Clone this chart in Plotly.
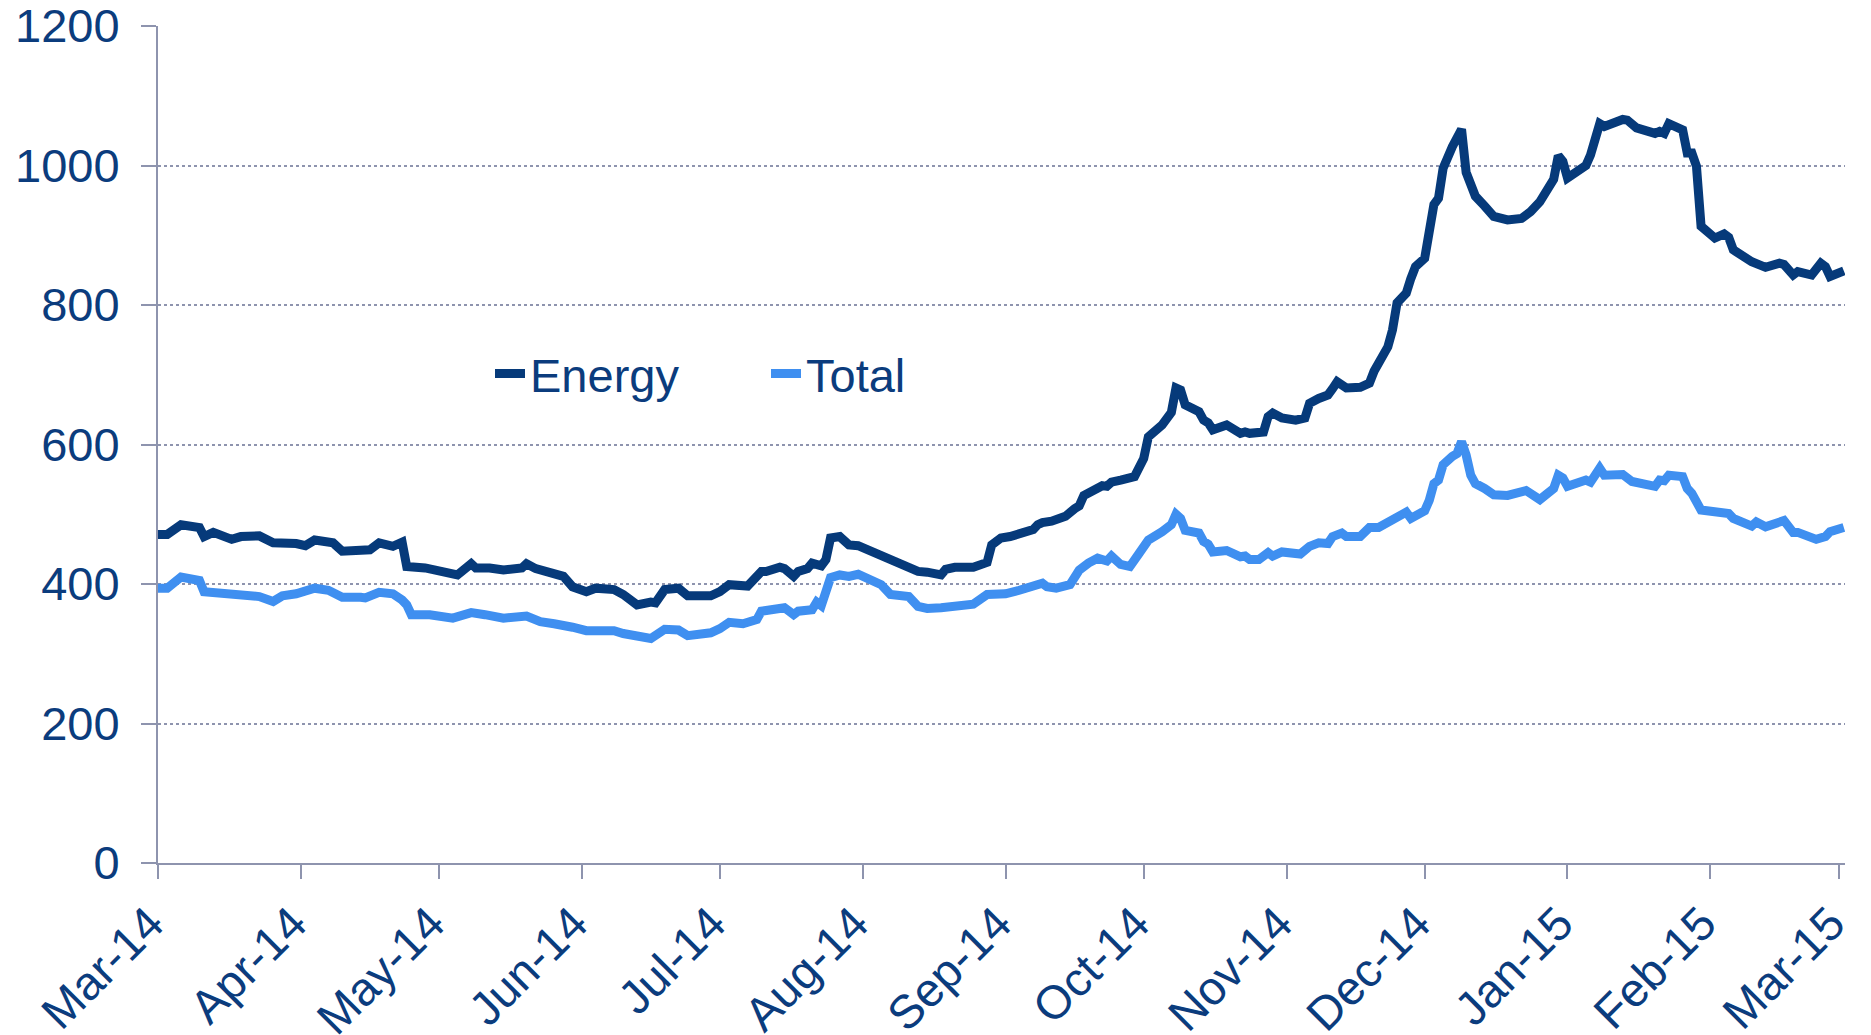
import pandas as pd
import plotly.graph_objects as go

# ---- data ----
start_date = "2014-03-01"

energy_days = [0, 2, 5, 9, 10, 12, 16, 18, 22, 25, 30, 32, 34, 38, 40, 44, 46, 48, 51, 53, 54,
               58, 60, 65, 68, 69, 72, 75, 79, 80, 82, 86, 88, 90, 93, 95, 99, 101, 104, 107, 108,
               110, 113, 115, 120, 122, 124, 128, 129, 131, 132, 135, 136, 138, 139, 141, 142, 144,
               145, 146, 148, 150, 152, 155, 158, 159, 163, 165, 167, 170, 171, 173, 177, 180, 181,
               183, 185, 187, 190, 191, 192, 194, 197, 199, 200, 201, 203, 205, 206, 207, 209, 212,
               214, 215, 218, 220, 221, 222, 223, 226, 227, 228, 229, 232, 235, 236, 237, 240, 241,
               242, 244, 247, 249, 250, 252, 254, 255, 256, 258, 261, 263, 264, 267, 268, 269, 271,
               272, 273, 275, 276, 277, 278, 279, 281, 283, 284, 286, 288, 290, 293, 296, 298, 300,
               303, 304, 305, 306, 310, 311, 313, 314, 318, 319, 321, 325, 326, 327, 328, 331, 332,
               333, 334, 335, 338, 340, 341, 342, 346, 347, 349, 352, 353, 355, 356, 359, 361, 362,
               363, 366]
energy_values = [471, 471, 485, 481, 468, 474, 464, 468, 469, 459, 458, 455, 463, 459, 447, 447, 449,
                 459, 454, 460, 425, 423, 421, 413, 429, 423, 423, 420, 423, 429, 422, 413, 411, 396,
                 389, 394, 392, 385, 370, 374, 373, 392, 394, 383, 383, 389, 399, 397, 404, 418, 418,
                 424, 422, 411, 418, 422, 430, 426, 435, 466, 468, 456, 455, 447, 437, 435, 423, 418,
                 417, 413, 421, 424, 424, 431, 456, 466, 468, 473, 478, 485, 488, 490, 497, 508, 512,
                 527, 534, 541, 540, 546, 549, 554, 580, 611, 628, 646, 681, 678, 657, 647, 635, 631,
                 621, 628, 616, 618, 616, 618, 640, 645, 638, 635, 638, 659, 666, 671, 680, 690, 681,
                 682, 688, 705, 740, 764, 803, 817, 838, 855, 867, 903, 944, 953, 996, 1027, 1052, 990,
                 956, 942, 927, 922, 924, 934, 948, 980, 1014, 1006, 982, 1000, 1015, 1060, 1056, 1066,
                 1065, 1054, 1046, 1049, 1046, 1060, 1051, 1018, 1018, 999, 913, 896, 902, 897, 879,
                 862, 860, 854, 860, 858, 843, 848, 843, 860, 855, 841, 849]

total_days = [0, 2, 5, 9, 10, 12, 16, 18, 20, 22, 25, 27, 30, 34, 37, 40, 44, 45, 48, 51, 53, 54,
              55, 59, 64, 68, 71, 75, 80, 83, 86, 88, 90, 93, 99, 101, 104, 107, 110, 113, 115, 118,
              120, 122, 124, 127, 130, 131, 135, 136, 138, 139, 142, 143, 144, 146, 148, 150, 152,
              155, 157, 159, 163, 165, 167, 170, 172, 177, 180, 184, 187, 189, 192, 193, 195, 198,
              199, 200, 202, 204, 206, 207, 209, 211, 213, 215, 218, 220, 221, 222, 223, 226, 227,
              228, 229, 232, 235, 236, 237, 239, 241, 242, 244, 248, 250, 252, 254, 255, 257, 258,
              261, 262, 263, 265, 267, 269, 271, 272, 275, 276, 277, 278, 279, 281, 282, 283, 284,
              285, 286, 288, 290, 293, 297, 300, 303, 304, 305, 306, 310, 311, 313, 314, 318, 320,
              325, 326, 327, 328, 331, 332, 333, 335, 341, 342, 346, 347, 349, 353, 355, 356, 360,
              362, 363, 366]
total_values = [394, 394, 410, 405, 389, 388, 386, 387, 383, 382, 375, 383, 386, 394, 391, 381, 381,
                380, 388, 386, 377, 370, 356, 356, 351, 359, 356, 351, 354, 346, 343, 342, 338, 333,
                333, 329, 325, 322, 335, 334, 326, 329, 330, 336, 345, 343, 349, 361, 367, 366, 356,
                361, 363, 374, 369, 409, 413, 411, 414, 406, 399, 385, 382, 368, 365, 366, 368, 371,
                385, 386, 391, 395, 401, 396, 394, 399, 408, 420, 430, 437, 433, 440, 428, 425, 444,
                463, 475, 485, 500, 494, 477, 473, 461, 457, 446, 448, 439, 440, 435, 435, 445, 440,
                446, 443, 454, 459, 458, 468, 473, 468, 468, 477, 481, 481, 489, 497, 503, 494, 505,
                520, 544, 549, 571, 583, 587, 604, 585, 556, 544, 537, 528, 527, 534, 521, 537, 556,
                552, 540, 549, 546, 566, 556, 557, 547, 540, 549, 548, 556, 554, 537, 530, 506, 501,
                494, 483, 489, 482, 491, 474, 474, 464, 468, 475, 481]

tick_dates = ["2014-03-01", "2014-04-01", "2014-05-01", "2014-06-01", "2014-07-01", "2014-08-01",
              "2014-09-01", "2014-10-01", "2014-11-01", "2014-12-01", "2015-01-01", "2015-02-01",
              "2015-03-01"]
tick_labels = ["Mar-14", "Apr-14", "May-14", "Jun-14", "Jul-14", "Aug-14", "Sep-14", "Oct-14",
               "Nov-14", "Dec-14", "Jan-15", "Feb-15", "Mar-15"]
y_ticks = [0, 200, 400, 600, 800, 1000, 1200]

# ---- build ----
base = pd.Timestamp(start_date)
energy_dates = [base + pd.Timedelta(days=d) for d in energy_days]
total_dates = [base + pd.Timedelta(days=d) for d in total_days]

TEXT = "#0b3c7d"
AXIS = "#8e94ae"
FONT = "Liberation Sans, Arial, sans-serif"
FS = 47

fig = go.Figure()
fig.add_trace(go.Scatter(x=energy_dates, y=energy_values, mode="lines", name="Energy",
                         line=dict(color="#063a7a", width=9), legend="legend", showlegend=True))
fig.add_trace(go.Scatter(x=total_dates, y=total_values, mode="lines", name="Total",
                         line=dict(color="#3f8ff0", width=9), legend="legend2", showlegend=True))

# page body adds an 8px offset; compensate so the plot sits where the reference has it
OFF = 8
W, H = 1871 - OFF, 1035 - OFF
L, R, T, B = 158 - OFF, 26, 26 - OFF, 172
pw, ph = W - L - R, H - T - B


def px_x(px):
    return (px - OFF - L) / pw


def px_y(py):
    return (H - B - (py - OFF)) / ph


fig.update_layout(
    width=W, height=H,
    margin=dict(l=L, r=R, t=T, b=B),
    showlegend=True,
    plot_bgcolor="white", paper_bgcolor="white",
    font=dict(family=FONT, size=FS, color=TEXT),
    legend=dict(x=px_x(490), y=px_y(374), xanchor="left", yanchor="middle",
                bgcolor="rgba(0,0,0,0)", borderwidth=0, font=dict(size=FS, color=TEXT)),
    legend2=dict(x=px_x(766), y=px_y(374), xanchor="left", yanchor="middle",
                 bgcolor="rgba(0,0,0,0)", borderwidth=0, font=dict(size=FS, color=TEXT)),
    xaxis=dict(type="date", range=["2014-03-01", "2015-03-02 06:00"], automargin=False,
               tickmode="array", tickvals=tick_dates, ticktext=tick_labels,
               tickangle=-45, ticks="outside", ticklen=14, tickwidth=2, tickcolor=AXIS,
               showline=True, linecolor=AXIS, linewidth=2, showgrid=False, zeroline=False,
               ticklabelshift=-8, ticklabelstandoff=-2, ticklabeloverflow="allow",
               tickfont=dict(size=FS, color=TEXT)),
    yaxis=dict(range=[0, 1200], tickmode="array", tickvals=y_ticks, automargin=False,
               ticks="outside", ticklen=15, tickwidth=2, tickcolor=AXIS,
               showline=True, linecolor=AXIS, linewidth=2,
               showgrid=True, gridcolor=AXIS, griddash="dot", gridwidth=1.5,
               zeroline=False, ticklabelstandoff=12, ticklabeloverflow="allow",
               tickfont=dict(size=FS, color=TEXT)),
)

fig.write_html("out.html")
